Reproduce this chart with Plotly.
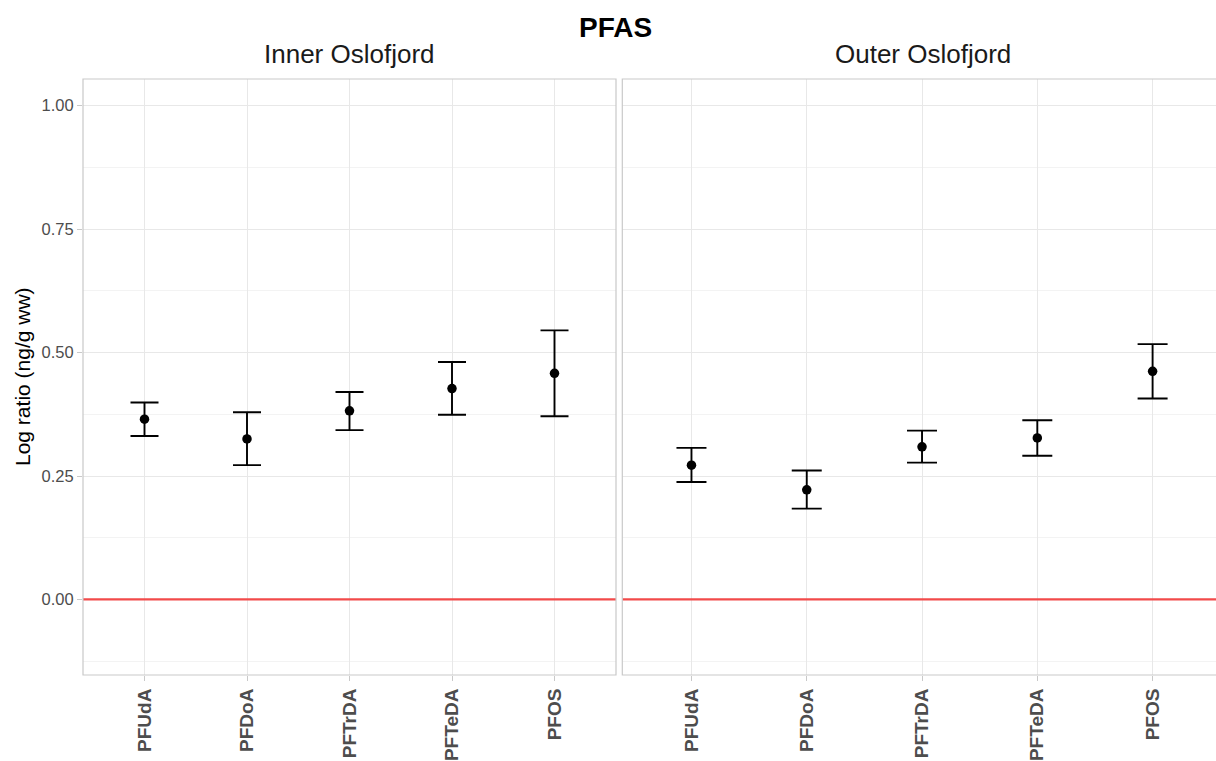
import plotly.graph_objects as go

# PFAS compounds shown on both panels
compounds = ["PFUdA", "PFDoA", "PFTrDA", "PFTeDA", "PFOS"]

# Inner Oslofjord: estimate with lower / upper interval limits
inner_mean = [0.365, 0.325, 0.382, 0.427, 0.458]
inner_low = [0.331, 0.272, 0.343, 0.374, 0.371]
inner_high = [0.399, 0.379, 0.420, 0.481, 0.545]

# Outer Oslofjord: estimate with lower / upper interval limits
outer_mean = [0.272, 0.222, 0.309, 0.327, 0.462]
outer_low = [0.238, 0.184, 0.277, 0.291, 0.407]
outer_high = [0.307, 0.261, 0.342, 0.363, 0.517]

y_ticks = [0.0, 0.25, 0.5, 0.75, 1.0]

FONT = "Liberation Sans, Arial, Helvetica, sans-serif"
W, H = 1216, 761
ML, MT, MB = 83, 79, 86
plot_w = W - ML
left_dom = [0.0, (616 - ML) / plot_w]
right_dom = [(622.3 - ML) / plot_w, 1.0]

GRID = "#E8E8E8"
MINOR = "#F3F3F3"
BORDER = "#C9C9C9"
TICKC = "#C9C9C9"


def panel_trace(means, lows, highs, xa, ya, cap):
    return go.Scatter(
        x=compounds,
        y=means,
        xaxis=xa,
        yaxis=ya,
        mode="markers",
        marker=dict(color="black", size=9.5),
        error_y=dict(
            type="data",
            symmetric=False,
            array=[h - m for h, m in zip(highs, means)],
            arrayminus=[m - l for m, l in zip(means, lows)],
            color="black",
            thickness=1.9,
            width=cap,
        ),
        showlegend=False,
        hoverinfo="x+y",
    )


fig = go.Figure()
fig.add_trace(panel_trace(inner_mean, inner_low, inner_high, "x", "y", 14))
fig.add_trace(panel_trace(outer_mean, outer_low, outer_high, "x2", "y2", 15))

xaxis_common = dict(
    type="category",
    categoryorder="array",
    categoryarray=compounds,
    showgrid=True,
    gridcolor=GRID,
    gridwidth=1,
    zeroline=False,
    showline=False,
    ticks="outside",
    ticklen=5,
    tickwidth=1,
    tickcolor=TICKC,
    tickangle=-90,
    tickfont=dict(family=FONT, size=19, color="#4D4D4D", weight="bold"),
    automargin=False,
    fixedrange=True,
)

yaxis_common = dict(
    range=[-0.153, 1.054],
    tickvals=y_ticks,
    tickformat=".2f",
    showgrid=True,
    gridcolor=GRID,
    gridwidth=1,
    zeroline=False,
    showline=False,
    minor=dict(tick0=0.125, dtick=0.25, showgrid=True, gridcolor=MINOR, gridwidth=1),
    automargin=False,
    fixedrange=True,
)

fig.update_layout(
    width=W,
    height=H,
    margin=dict(l=ML, r=0, t=MT, b=MB, pad=0),
    paper_bgcolor="white",
    plot_bgcolor="white",
    font=dict(family=FONT, color="#1A1A1A"),
    xaxis=dict(domain=left_dom, range=[-0.6, 4.6], anchor="y", **xaxis_common),
    xaxis2=dict(domain=right_dom, range=[-0.6, 4.55], anchor="y2", **xaxis_common),
    yaxis=dict(
        domain=[0, 1],
        anchor="x",
        ticks="outside",
        ticklen=5,
        tickwidth=1,
        tickcolor=TICKC,
        tickfont=dict(family=FONT, size=16.5, color="#4D4D4D"),
        **yaxis_common,
    ),
    yaxis2=dict(
        domain=[0, 1],
        anchor="x2",
        matches="y",
        showticklabels=False,
        ticks="",
        **yaxis_common,
    ),
)

# reference line at zero in each panel
for xa, ya in (("x", "y"), ("x2", "y2")):
    fig.add_shape(
        type="line",
        xref=f"{xa} domain",
        yref=ya,
        x0=0,
        x1=1,
        y0=0,
        y1=0,
        line=dict(color="#F24A4A", width=2.2),
        layer="above",
    )

# panel borders
fig.add_shape(type="rect", xref="paper", yref="paper", x0=left_dom[0], x1=left_dom[1],
              y0=0, y1=1, line=dict(color=BORDER, width=1.2), layer="above")
fig.add_shape(type="rect", xref="paper", yref="paper", x0=right_dom[0], x1=1.05,
              y0=0, y1=1, line=dict(color=BORDER, width=1.2), layer="above")

# plot title, facet strips and y-axis title
fig.add_annotation(text="<b>PFAS</b>", xref="paper", yref="paper",
                   x=(615.6 - ML) / plot_w, y=1 + (MT - 27) / (H - MT - MB),
                   xanchor="center", yanchor="middle", showarrow=False,
                   font=dict(family=FONT, size=28, color="black"))
fig.add_annotation(text="Inner Oslofjord", xref="paper", yref="paper",
                   x=(349.5 - ML) / plot_w, y=1 + (MT - 54) / (H - MT - MB),
                   xanchor="center", yanchor="middle", showarrow=False,
                   font=dict(family=FONT, size=26, color="#1A1A1A"))
fig.add_annotation(text="Outer Oslofjord", xref="paper", yref="paper",
                   x=(922.5 - ML) / plot_w, y=1 + (MT - 54) / (H - MT - MB),
                   xanchor="center", yanchor="middle", showarrow=False,
                   font=dict(family=FONT, size=26, color="#1A1A1A"))
fig.add_annotation(text="Log ratio (ng/g ww)", xref="paper", yref="paper",
                   x=(22 - ML) / plot_w, y=0.5, textangle=-90,
                   xanchor="center", yanchor="middle", showarrow=False,
                   font=dict(family=FONT, size=21, color="black"))

fig.write_html("out.html")
